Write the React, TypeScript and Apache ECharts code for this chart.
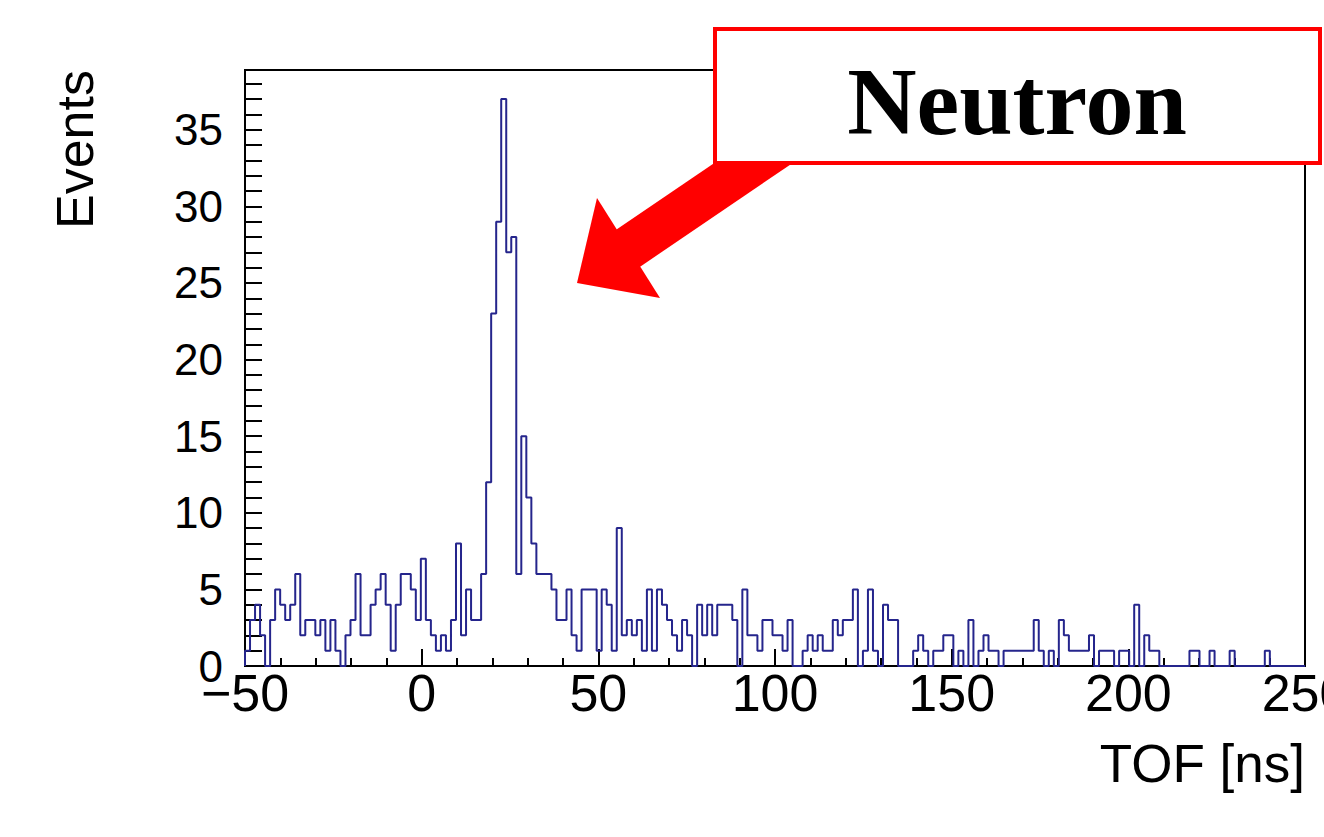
import React, { useEffect, useRef } from "react";
import * as echarts from "echarts";

// Histogram definition (TOF in ns)
const HIST_MIN = -50;
const HIST_MAX = 250;
const COUNTS: number[] = [
  1, 3, 4, 2, 0, 3, 5, 4, 3, 4,
  6, 2, 3, 3, 2, 3, 1, 3, 1, 0,
  2, 3, 6, 2, 2, 4, 5, 6, 4, 1,
  4, 6, 6, 5, 3, 7, 3, 2, 1, 2,
  1, 3, 8, 2, 5, 3, 3, 6, 12, 23,
  29, 37, 27, 28, 6, 15, 11, 8, 6, 6,
  6, 5, 3, 3, 5, 2, 1, 5, 5, 5,
  1, 5, 4, 1, 9, 2, 3, 2, 3, 1,
  5, 1, 5, 4, 3, 2, 1, 3, 2, 0,
  4, 2, 4, 2, 4, 4, 4, 3, 0, 5,
  2, 2, 1, 3, 3, 2, 2, 1, 3, 0,
  0, 1, 2, 1, 2, 1, 1, 3, 2, 3,
  3, 5, 0, 1, 5, 1, 0, 4, 3, 3,
  0, 0, 0, 1, 2, 1, 0, 1, 1, 2,
  2, 0, 1, 0, 3, 0, 1, 2, 1, 1,
  0, 1, 1, 1, 1, 1, 1, 3, 1, 0,
  1, 0, 3, 2, 1, 1, 1, 1, 2, 0,
  1, 1, 1, 0, 1, 1, 0, 4, 0, 2,
  1, 1, 0, 0, 0, 0, 0, 0, 1, 1,
  0, 0, 1, 0, 0, 0, 1, 0, 0, 0,
  0, 0, 0, 1, 0, 0, 0, 0, 0, 0,
  0,
];

const X_MIN = -50;
const X_MAX = 250;
const X_STEP = 50;
const Y_MIN = 0;
const Y_MAX = 38.9;
const Y_STEP = 5;

const X_TITLE = "TOF [ns]";
const Y_TITLE = "Events";
const LABEL_TEXT = "Neutron";

function buildStepData(): [number, number][] {
  const n = COUNTS.length;
  const w = (HIST_MAX - HIST_MIN) / n;
  const pts: [number, number][] = [[HIST_MIN, 0]];
  for (let i = 0; i < n; i++) pts.push([HIST_MIN + i * w, COUNTS[i]]);
  pts.push([HIST_MAX, COUNTS[n - 1]]);
  pts.push([HIST_MAX, 0]);
  return pts;
}

export default function App() {
  const ref = useRef<HTMLDivElement>(null);
  useEffect(() => {
    document.body.style.margin = "0";
    const chart = echarts.init(ref.current!, null, { renderer: "svg" });
    const font = "'Liberation Sans', Arial, sans-serif";
    // arrow geometry
    const tip = [577, 283];
    const b1 = [597, 198];
    const b2 = [660, 298];
    const bm = [(b1[0] + b2[0]) / 2, (b1[1] + b2[1]) / 2];
    const dx = bm[0] - tip[0], dy = bm[1] - tip[1];
    const L = Math.hypot(dx, dy);
    const ux = dx / L, uy = dy / L; // from tip toward base (up-right)
    const px = -uy, py = ux;
    const hw = 22, sl = 185;
    const shaft = [
      [bm[0] + px * hw - ux * 4, bm[1] + py * hw - uy * 4],
      [bm[0] - px * hw - ux * 4, bm[1] - py * hw - uy * 4],
      [bm[0] - px * hw + ux * sl, bm[1] - py * hw + uy * sl],
      [bm[0] + px * hw + ux * sl, bm[1] + py * hw + uy * sl],
    ];
    chart.setOption({
      animation: false,
      backgroundColor: "#ffffff",
      grid: {
        left: 245,
        right: 19,
        top: 70,
        bottom: 171,
        show: true,
        borderColor: "#000",
        borderWidth: 2,
        backgroundColor: "transparent",
        containLabel: false,
        outerBoundsMode: "none",
      },
      xAxis: {
        type: "value",
        min: X_MIN,
        max: X_MAX,
        interval: X_STEP,
        axisLine: { show: true, onZero: false, lineStyle: { color: "#000", width: 2 } },
        axisTick: { show: true, inside: true, length: 17, lineStyle: { color: "#000", width: 2 } },
        minorTick: { show: true, splitNumber: 5, length: 8, lineStyle: { color: "#000", width: 2 } },
        splitLine: { show: false },
        axisLabel: {
          show: true,
          fontSize: 52,
          color: "#000",
          fontFamily: font,
          margin: 1,
          showMinLabel: true,
          showMaxLabel: true,
          hideOverlap: false,
          formatter: (v: number) => (v < 0 ? "\u2212" + Math.abs(v) : String(v)),
        },
      },
      yAxis: {
        type: "value",
        min: Y_MIN,
        max: Y_MAX,
        interval: Y_STEP,
        axisLine: { show: true, onZero: false, lineStyle: { color: "#000", width: 2 } },
        axisTick: { show: true, inside: true, length: 17, lineStyle: { color: "#000", width: 2 } },
        minorTick: { show: true, splitNumber: 5, length: 17, lineStyle: { color: "#000", width: 2 } },
        splitLine: { show: false },
        axisLabel: {
          show: true,
          fontSize: 44,
          color: "#000",
          fontFamily: font,
          margin: 22,
          showMaxLabel: false,
        },
      },
      series: [
        {
          type: "line",
          step: "end",
          data: buildStepData(),
          symbol: "none",
          lineStyle: { color: "#25258c", width: 2 },
          z: 3,
        },
      ],
      graphic: [
        {
          type: "text",
          x: 75,
          y: 70,
          rotation: Math.PI / 2,
          style: {
            text: Y_TITLE,
            fontSize: 52,
            fontFamily: font,
            fill: "#000",
            align: "right",
            verticalAlign: "middle",
          },
        },
        {
          type: "text",
          x: 1305,
          y: 763,
          style: {
            text: X_TITLE,
            fontSize: 53,
            fontFamily: font,
            fill: "#000",
            align: "right",
            verticalAlign: "middle",
          },
        },
        {
          type: "polygon",
          z: 10,
          shape: { points: shaft },
          style: { fill: "#ff0000" },
        },
        {
          type: "polygon",
          z: 10,
          shape: { points: [tip, b1, b2] },
          style: { fill: "#ff0000" },
        },
        {
          type: "rect",
          z: 11,
          shape: { x: 715, y: 29, width: 605, height: 134 },
          style: { fill: "#ffffff", stroke: "#ff0000", lineWidth: 4 },
        },
        {
          type: "text",
          z: 12,
          x: 1017,
          y: 101,
          style: {
            text: LABEL_TEXT,
            fontSize: 96,
            fontWeight: "bold",
            fontFamily: "'Liberation Serif', 'Times New Roman', serif",
            fill: "#000",
            align: "center",
            verticalAlign: "middle",
          },
        },
      ],
    });
    return () => chart.dispose();
  }, []);
  return <div ref={ref} style={{ width: 1324, height: 837 }} />;
}
